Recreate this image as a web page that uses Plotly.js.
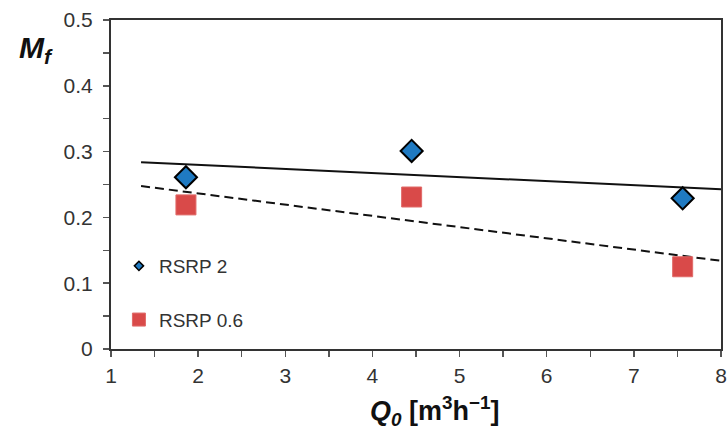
<!DOCTYPE html>
<html>
<head>
<meta charset="utf-8">
<script src="https://cdn.plot.ly/plotly-3.0.1.min.js"></script>
<style>html,body{margin:0;padding:0;background:#fff;}#chart{width:727px;height:429px;}</style>
</head>
<body>
<div id="chart"></div>
<script>
// Data
var q0 = [1.86, 4.45, 7.56];
var rsrp2 = [0.261, 0.301, 0.229];
var rsrp06 = [0.219, 0.231, 0.125];
var seriesNames = ['RSRP 2', 'RSRP 0.6'];
var trendRange = [1.345, 8];
var xTicks = [1, 2, 3, 4, 5, 6, 7, 8];
var yTicks = [0, 0.1, 0.2, 0.3, 0.4, 0.5];

function linFit(xs, ys) {
  var n = xs.length, mx = 0, my = 0;
  for (var i = 0; i < n; i++) { mx += xs[i]; my += ys[i]; }
  mx /= n; my /= n;
  var sxy = 0, sxx = 0;
  for (var j = 0; j < n; j++) { sxy += (xs[j]-mx)*(ys[j]-my); sxx += (xs[j]-mx)*(xs[j]-mx); }
  var b = sxy / sxx, a = my - b*mx;
  return trendRange.map(function (x) { return a + b*x; });
}

var blue = '#1f7ac2', red = '#d94a49';
var font = 'Liberation Sans, Arial, sans-serif';

var traces = [
  {x: trendRange, y: linFit(q0, rsrp2), mode: 'lines', line: {color: '#111', width: 2}, showlegend: false, hoverinfo: 'skip'},
  {x: trendRange, y: linFit(q0, rsrp06), mode: 'lines', line: {color: '#111', width: 2, dash: '9px,5px'}, showlegend: false, hoverinfo: 'skip'},
  {x: q0, y: rsrp2, mode: 'markers', name: seriesNames[0], showlegend: false,
   marker: {symbol: 'diamond', size: 17, color: blue, line: {color: '#000', width: 2}}},
  {x: q0, y: rsrp06, mode: 'markers', name: seriesNames[1], showlegend: false,
   marker: {symbol: 'square', size: 20, color: red, line: {color: '#e06a68', width: 1}}},
  // legend entries
  {x: [null], y: [null], mode: 'markers', name: seriesNames[0], legendgroup: 'a',
   marker: {symbol: 'diamond', size: 7, color: blue, line: {color: '#000', width: 1.5}}},
  {x: [null], y: [null], mode: 'markers', name: seriesNames[1], legendgroup: 'b',
   marker: {symbol: 'square', size: 13, color: red, line: {color: '#e06a68', width: 1}}}
];

var axisCommon = {
  showgrid: false, zeroline: false, showline: true, linecolor: '#333', linewidth: 2,
  mirror: true, ticks: 'outside', ticklen: 6, tickwidth: 1.5, tickcolor: '#555',
  tickfont: {family: font, size: 21, color: '#333'}
};

var layout = {
  width: 727, height: 429,
  margin: {l: 111, r: 6, t: 20, b: 80},
  paper_bgcolor: '#fff', plot_bgcolor: '#fff',
  font: {family: font, color: '#333'},
  xaxis: Object.assign({}, axisCommon, {range: [1, 8], tickvals: xTicks, ticktext: xTicks.map(String),
    ticklabelstandoff: 1,
    minor: {dtick: 0.5, ticks: 'outside', ticklen: 6, tickcolor: '#555', tickwidth: 1.5}}),
  yaxis: Object.assign({}, axisCommon, {range: [0, 0.5], tickvals: yTicks, ticktext: yTicks.map(String),
    ticklabelstandoff: 6,
    minor: {dtick: 0.05, ticks: 'outside', ticklen: 6, tickcolor: '#555', tickwidth: 1.5}}),
  showlegend: true,
  legend: {x: 0.013, y: 0.31, xanchor: 'left', yanchor: 'top', bgcolor: 'rgba(0,0,0,0)',
    font: {family: font, size: 19, color: '#333'}, traceorder: 'grouped', tracegroupgap: 26},
  annotations: [
    {text: '<b><i>M<sub>f</sub></i></b>', xref: 'paper', yref: 'paper', x: -0.154, y: 0.91,
     xanchor: 'left', yanchor: 'middle',
     showarrow: false, font: {family: font, size: 30, color: '#111'}},
    {text: '<b><i>Q<sub>0</sub></i> [m<sup>3</sup>h<sup>\u22121</sup>]</b>', xref: 'paper', yref: 'paper',
     x: 0.531, y: -0.188, xanchor: 'center', yanchor: 'middle',
     showarrow: false, font: {family: font, size: 27, color: '#111'}}
  ]
};

Plotly.newPlot('chart', traces, layout, {displayModeBar: false, staticPlot: true});
</script>
</body>
</html>
